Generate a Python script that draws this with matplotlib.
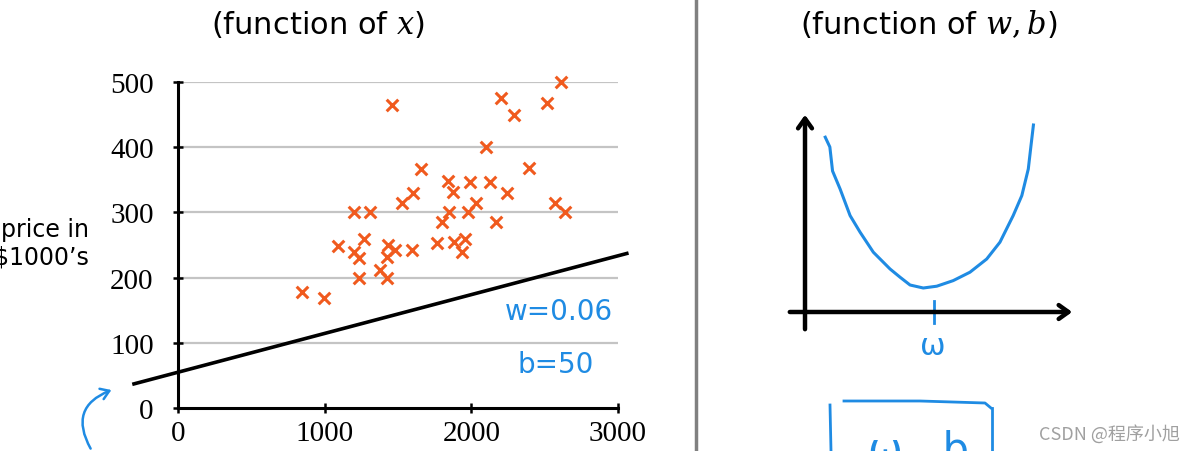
import matplotlib.pyplot as plt
from matplotlib.patches import FancyArrowPatch

# house size (sqft) vs price ($1000's)
size_sqft = [848, 998, 1093, 1202, 1309, 1202, 1237, 1268, 1237, 1380,
             1424, 1429, 1424, 1482, 1458, 1597, 1530, 1602, 1660, 1769,
             1803, 1841, 1849, 1878, 1884, 1933, 1956, 1976, 1993, 2033,
             2100, 2128, 2166, 2200, 2243, 2292, 2396, 2517, 2568, 2609, 2637]
price_k = [178, 169, 249, 300, 300, 240, 230, 259, 199, 212,
           199, 250, 232, 242, 464, 242, 315, 330, 367, 253,
           285, 348, 300, 331, 254, 240, 259, 300, 347, 315,
           400, 346, 286, 475, 329, 449, 368, 468, 314, 500, 300]

# hand-drawn model line
line_x = [-300, 3060]
line_y = [37, 237]

x_ticks = [0, 1000, 2000, 3000]
y_ticks = [0, 100, 200, 300, 400, 500]

# sketched cost curve J(w) on the right (arbitrary units)
cost_w = [0.75, 0.92, 1.02, 1.30, 1.67, 2.04, 2.53, 3.15, 3.52, 3.89, 4.38,
          4.88, 5.49, 6.11, 6.73, 7.22, 7.71, 8.03, 8.27, 8.37, 8.46]
cost_j = [8.74, 8.25, 7.05, 6.15, 4.82, 3.99, 2.99, 2.15, 1.74, 1.35, 1.20,
          1.29, 1.57, 1.99, 2.65, 3.49, 4.82, 5.82, 7.15, 8.32, 9.35]
w_min = 4.78

blue = '#1f8be3'
orange = '#f05a1e'

plt.rcParams['mathtext.fontset'] = 'dejavuserif'

fig = plt.figure(figsize=(11.91, 4.52), dpi=100)
W, H = 1191, 452

def px_box(l, r, t, b):
    return [l / W, (H - b) / H, (r - l) / W, (b - t) / H]

# left: scatter plot
ax = fig.add_axes(px_box(178, 618, 83, 409))
ax.scatter(size_sqft, price_k, marker='x', s=70, color=orange, linewidths=2.2,
           zorder=3, clip_on=False)
ax.plot(line_x, line_y, color='black', lw=2.6, clip_on=False, zorder=4)
ax.set_xlim(0, 3000)
ax.set_ylim(0, 500)
ax.set_xticks(x_ticks)
ax.set_yticks(y_ticks)
for y in y_ticks[1:]:
    ax.axhline(y, color='#c4c4c4', lw=1.6, zorder=1)
for s in ['top', 'right']:
    ax.spines[s].set_visible(False)
for s in ['left', 'bottom']:
    ax.spines[s].set_linewidth(2.2)
ax.tick_params(direction='inout', length=7, width=1.8)
ax.tick_params(axis='y', pad=14)
ax.tick_params(axis='x', pad=5)
for lab in ax.get_xticklabels() + ax.get_yticklabels():
    lab.set_fontfamily('Liberation Serif')
    lab.set_fontsize(21)

# right: sketched cost function
ax2 = fig.add_axes(px_box(787, 1080, 105, 333))
ax2.set_xlim(-0.667, 10.185)
ax2.set_ylim(-1.0, 10.4)
ax2.axis('off')
ax2.plot(cost_w, cost_j, color=blue, lw=2.2, solid_joinstyle='round')
ax2.annotate('', xy=(0, 10.0), xytext=(0, -1.0),
             arrowprops=dict(arrowstyle='->,head_width=0.5,head_length=0.7', lw=3.2, color='black'))
ax2.annotate('', xy=(10.0, 0), xytext=(-0.667, 0),
             arrowprops=dict(arrowstyle='->,head_width=0.5,head_length=0.7', lw=3.2, color='black'))
ax2.plot([w_min, w_min], [-0.55, 0.55], color=blue, lw=2)

# overlay in pixel coordinates for the slide annotations
ov = fig.add_axes([0, 0, 1, 1])
ov.set_xlim(0, W)
ov.set_ylim(H, 0)
ov.axis('off')
ov.patch.set_alpha(0)

ov.text(318, 24, r'(function of $x$)', fontsize=22, ha='center', va='center')
ov.text(929, 24, r'(function of $w,b$)', fontsize=22, ha='center', va='center')
ov.text(89, 244, "price in\n$1000\u2019s", fontsize=17, ha='right', va='center',
        linespacing=1.2)

ov.text(559, 312, 'w=0.06', fontsize=20, color=blue, ha='center', va='center')
ov.text(556, 365, 'b=50', fontsize=20, color=blue, ha='center', va='center')
ov.add_patch(FancyArrowPatch((92, 452), (114, 390), connectionstyle='arc3,rad=-0.6',
                             arrowstyle='->,head_width=4,head_length=6', lw=1.8, color=blue))

ov.plot([696, 696], [0, H], color='#808080', lw=2.5)

ov.text(933, 347, '\u03c9', fontsize=22, color=blue, ha='center', va='center')
ov.plot([830, 831], [406, 452], color=blue, lw=2)
ov.plot([844, 920, 985, 991], [402, 402, 404, 409], color=blue, lw=2)
ov.plot([992, 992], [409, 452], color=blue, lw=2)
ov.text(918, 430, '\u03c9 , b', fontsize=30, color=blue, ha='center', va='top')

ov.text(1109, 434, 'CSDN @程序小旭', fontsize=13, color='#a0a0a0', ha='center', va='center',
        family=['Noto Sans CJK SC', 'DejaVu Sans'])

fig.savefig('out.png', dpi=100)
